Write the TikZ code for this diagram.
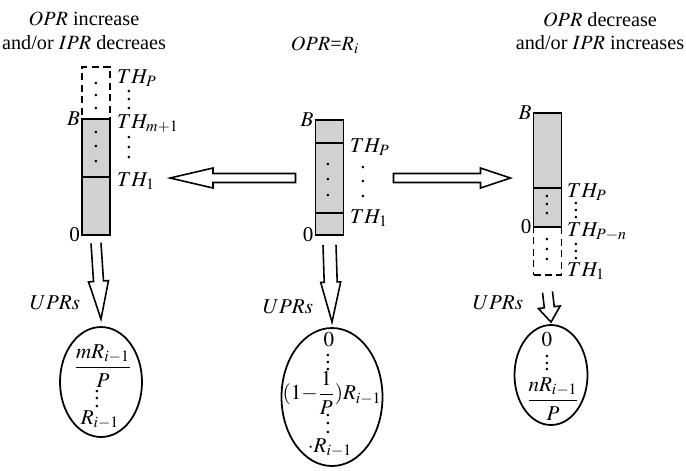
\documentclass[tikz,border=0pt]{standalone}
\usepackage{amsmath}
\usepackage{mathptmx}
\usepackage{fontspec}
\setmainfont{Liberation Serif}
\usetikzlibrary{positioning,shapes.geometric,calc}
\newcommand{\vdotsx}[1]{\vbox{\baselineskip#1\lineskiplimit0pt\hbox{.}\hbox{.}\hbox{.}}}

\begin{document}
\begin{tikzpicture}[
  font=\fontsize{12}{13}\selectfont,
  seg/.style={draw, line width=1pt, fill=black!18, minimum width=0.56cm, inner sep=0pt, outer sep=0pt},
  dseg/.style={draw, line width=1pt, dash pattern=on 4pt off 2.5pt, minimum width=0.56cm, inner sep=0pt, outer sep=0pt},
  hdr/.style={font=\fontsize{11.5}{13.5}\selectfont},
  lbl/.style={anchor=west, inner sep=1pt},
  dots/.style={inner sep=0pt},
  ell/.style={draw, ellipse, line width=1pt, inner sep=0pt},
  fat/.style n args={4}{draw, line width=0.9pt, to path={
    let \p1=(\tikztostart), \p2=(\tikztotarget), \n1={atan2(\y2-\y1,\x2-\x1)} in
    ($(\p1)+({\n1+90}:#1)$) -- ($(\p2)+({\n1+180}:#3)+({\n1+90}:#1)$)
    -- ($(\p2)+({\n1+180}:#3)+({\n1+90}:#2)$) -- (\p2)
    -- ($(\p2)+({\n1+180}:#3)+({\n1-90}:#2)$) -- ($(\p2)+({\n1+180}:#3)+({\n1-90}:#1)$)
    -- ($(\p1)+({\n1-90}:#1)$) #4}},
  every node/.style={align=center}
]
\useasboundingbox (0,0) rectangle (13.72,-9.40);
% titles
\node[hdr] (hdr-left) at (1.68,-0.62) {$OPR$ increase\\and/or $IPR$ decreaes};
\node[hdr] (hdr-mid) at (6.50,-0.90) {$OPR$=$R_i$};
\node[hdr] (hdr-right) at (12.00,-0.62) {$OPR$ decrease\\and/or $IPR$ increases};
% left buffer
\node[dseg, minimum height=1.04cm, anchor=north] (seg-left-1) at (1.92,-1.34) {};
\node[seg, minimum height=1.16cm, below=0pt of seg-left-1] (seg-left-2) {};
\node[seg, minimum height=1.16cm, below=0pt of seg-left-2] (seg-left-3) {};
\node[inner sep=1pt, left=0pt of seg-left-2.north west] (b-left) {$B$};
\node[inner sep=1pt, left=0pt of seg-left-3.south west] (zero-left) {0};
\node[lbl] (th-left-p) at (2.30,-1.56) {$TH_P$};
\node[lbl] (th-left-m) at (2.30,-2.48) {$TH_{m+1}$};
\node[lbl] (th-left-1) at (2.30,-3.62) {$TH_1$};
\node[dots] at (1.92,-1.92) {\vdotsx{7pt}};
\node[dots] at (1.92,-2.94) {\vdotsx{8.5pt}};
\node[dots] at (2.58,-2.00) {\vdotsx{5pt}};
\node[dots] at (2.58,-2.96) {\vdotsx{5.7pt}};
% middle buffer
\node[seg, minimum height=0.46cm, anchor=north] (seg-mid-1) at (6.59,-2.40) {};
\node[seg, minimum height=1.40cm, below=0pt of seg-mid-1] (seg-mid-2) {};
\node[seg, minimum height=0.44cm, below=0pt of seg-mid-2] (seg-mid-3) {};
\node[inner sep=1pt, left=0pt of seg-mid-1.north west] (b-mid) {$B$};
\node[inner sep=1pt, left=0pt of seg-mid-3.south west] (zero-mid) {0};
\node[lbl] (th-mid-p) at (6.96,-2.94) {$TH_P$};
\node[lbl] (th-mid-1) at (6.96,-4.36) {$TH_1$};
\node[dots] at (6.56,-3.60) {\vdotsx{9pt}};
\node[dots] at (7.26,-3.64) {\vdotsx{8pt}};
% right buffer
\node[seg, minimum height=1.50cm, anchor=north] (seg-right-1) at (10.95,-2.26) {};
\node[seg, minimum height=0.78cm, below=0pt of seg-right-1] (seg-right-2) {};
\node[dseg, minimum height=0.96cm, below=0pt of seg-right-2] (seg-right-3) {};
\node[inner sep=1pt, left=0pt of seg-right-1.north west] (b-right) {$B$};
\node[inner sep=1pt, left=0pt of seg-right-2.south west] (zero-right) {0};
\node[lbl] (th-right-p) at (11.30,-3.84) {$TH_P$};
\node[lbl] (th-right-n) at (11.30,-4.64) {$TH_{P-n}$};
\node[lbl] (th-right-1) at (11.30,-5.42) {$TH_1$};
\node[dots] at (10.94,-4.10) {\vdotsx{5pt}};
\node[dots] at (10.94,-5.00) {\vdotsx{5.7pt}};
\node[dots] at (11.52,-4.21) {\vdotsx{3.8pt}};
\node[dots] at (11.52,-5.03) {\vdotsx{4.2pt}};
% UPR sets
\node[ell, minimum width=1.64cm, minimum height=2.20cm] (ell-left) at (2.02,-7.64) {};
\node (ell-left-a) at (2.06,-7.32) {$\dfrac{mR_{i-1}}{P}$};
\node[dots] (ell-left-b) at (1.94,-7.98) {\vdotsx{4.5pt}};
\node (ell-left-c) at (2.00,-8.40) {$R_{i-1}$};
\node[ell, minimum width=2.02cm, minimum height=2.76cm] (ell-mid) at (6.64,-7.94) {};
\node (ell-mid-a) at (6.58,-6.80) {$0$};
\node[dots] (ell-mid-b) at (6.56,-7.26) {\vdotsx{4pt}};
\node (ell-mid-c) at (6.64,-7.86) {$(1{-}\dfrac{1}{P})R_{i-1}$};
\node[dots] (ell-mid-d) at (6.56,-8.48) {\vdotsx{4.6pt}};
\node (ell-mid-e) at (6.60,-8.96) {$\cdot R_{i-1}$};
\node[ell, minimum width=1.46cm, minimum height=2.00cm] (ell-right) at (11.02,-7.50) {};
\node (ell-right-a) at (10.94,-6.80) {$0$};
\node[dots] (ell-right-b) at (10.94,-7.27) {\vdotsx{3.7pt}};
\node (ell-right-c) at (11.06,-7.98) {$\dfrac{nR_{i-1}}{P}$};
\node (upr-left) at (1.10,-6.06) {$UPRs$};
\node (upr-mid) at (5.76,-6.14) {$UPRs$};
\node (upr-right) at (9.96,-6.06) {$UPRs$};
% fat arrows
\draw[fat={0.09cm}{0.2cm}{0.86cm}{-- cycle}] ([xshift=-4mm]seg-mid-2.west) to ($(seg-left-2.east |- seg-mid-2.west)+(1.2,0)$);
\draw[fat={0.09cm}{0.2cm}{0.60cm}{-- cycle}] ([xshift=10mm]seg-mid-2.east) to ($(seg-right-1.west |- seg-mid-2.east)+(-0.46,0)$);
\draw[fat={0.10cm}{0.2cm}{0.76cm}{}] ([yshift=-1.6mm]seg-left-3.south) to ([yshift=1.4mm]ell-left.north);
\draw[fat={0.13cm}{0.2cm}{0.80cm}{}] ([yshift=-2mm]seg-mid-3.south) to ([yshift=1mm]ell-mid.north);
\draw[fat={0.10cm}{0.22cm}{0.30cm}{}] ([yshift=-3.4mm]seg-right-3.south) to ([yshift=0.4mm]ell-right.north);
\end{tikzpicture}
\end{document}
